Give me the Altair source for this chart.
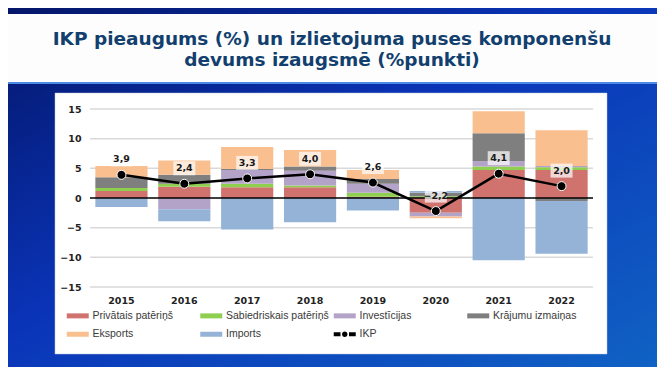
import altair as alt
import pandas as pd

years = ["2015", "2016", "2017", "2018", "2019", "2020", "2021", "2022"]
series = ["Privātais patēriņš", "Sabiedriskais patēriņš", "Investīcijas",
          "Krājumu izmaiņas", "Eksports", "Imports"]
privatais = [1.2, 1.9, 1.8, 1.8, 0.2, -2.5, 4.7, 4.7]
sabiedriskais = [0.5, 0.5, 0.6, 0.3, 0.7, 0.3, 0.6, 0.5]
investicijas = [0.0, -1.9, 2.3, 2.5, 1.5, -0.6, 0.9, 0.2]
krajumi = [1.8, 1.5, 0.2, 0.7, 0.8, 0.6, 4.7, -0.5]
eksports = [1.9, 2.4, 3.7, 2.8, 1.5, -0.3, 3.7, 6.0]
imports = [-1.5, -2.0, -5.3, -4.1, -2.1, 0.3, -10.5, -8.9]
ikp = [3.9, 2.4, 3.3, 4.0, 2.6, -2.2, 4.1, 2.0]
line_name = "IKP"
colors = ["#d0736e", "#8fcf50", "#b4a3c8", "#7f7f7f", "#f9bf8f", "#95b3d7", "#000000"]
grid_values = [-15, -10, -5, 0, 5, 10, 15]
title_lines = ["IKP pieaugums (%) un izlietojuma puses komponenšu",
               "devums izaugsmē (%punkti)"]

values_by_series = [privatais, sabiedriskais, investicijas, krajumi, eksports, imports]
rows = []
for i, (name, vals) in enumerate(zip(series, values_by_series)):
    for y, v in zip(years, vals):
        rows.append({"year": y, "series": name, "value": v, "idx": i})
df = pd.DataFrame(rows)
ikp_df = pd.DataFrame({"year": years, "value": ikp})
grid_df = pd.DataFrame({"value": grid_values})
one = pd.DataFrame({"d": [0]})

W, H = 503, 178
L, T = 82, 101
CW, CH = 649, 359

xscale = alt.Scale(paddingInner=0.17, paddingOuter=0.085)
xaxis = alt.Axis(title=None, labelAngle=0, domain=False, ticks=False, grid=False,
                 labelFont="DejaVu Sans", labelFontSize=9.5, labelFontWeight="bold",
                 labelColor="#222222", labelPadding=8, zindex=1)
yscale = alt.Scale(domain=[-15, 15], nice=False, zero=False)
yaxis = alt.Axis(title=None, values=grid_values, grid=False, domain=False, ticks=False,
                 labelFont="DejaVu Sans", labelFontSize=9.5, labelFontWeight="bold",
                 labelColor="#222222", labelPadding=9, zindex=1)


def xenc():
    return alt.X("year:O", scale=xscale, axis=xaxis)


def yenc(stack=None):
    if stack:
        return alt.Y("value:Q", scale=yscale, axis=yaxis, stack=stack)
    return alt.Y("value:Q", scale=yscale, axis=yaxis)


bar_path = "M-4.4,-1L4.4,-1L4.4,1L-4.4,1Z"
ikp_path = ("M-4.4,-0.8L-1.7,-0.8L-1.7,0.8L-4.4,0.8Z M1.7,-0.8L4.4,-0.8L4.4,0.8L1.7,0.8Z "
            "M1.1,0A1.1,1.1,0,1,1,-1.1,0A1.1,1.1,0,1,1,1.1,0Z")
box_path = "M-2.2,-1.4L2.2,-1.4L2.2,1.4L-2.2,1.4Z"

legend_domain = series + [line_name]


def make_legend():
    return alt.Legend(
        title=None, orient="none", legendX=-17.5, legendY=201.5, columns=4,
        direction="horizontal",
        symbolSize=25, symbolStrokeWidth=0,
        labelFont="Liberation Sans", labelFontSize=10.5, labelColor="#3a3a3a",
        labelOffset=9.5, labelLimit=300, columnPadding=4.5, rowPadding=7.5,
        gridAlign="all", padding=0, zindex=1,
    )


color_enc = alt.Color("series:N", scale=alt.Scale(domain=legend_domain, range=colors),
                      legend=make_legend())
shape_enc = alt.Shape("series:N",
                      scale=alt.Scale(domain=legend_domain, range=[bar_path] * 6 + [ikp_path]),
                      legend=make_legend())

grad = alt.Gradient(
    gradient="linear",
    stops=[alt.GradientStop(color="#041669", offset=0),
           alt.GradientStop(color="#0a34b8", offset=0.45),
           alt.GradientStop(color="#1062c4", offset=1)],
    x1=0, y1=0, x2=1, y2=1,
)

bg = alt.Chart(one).mark_rect(color=grad).encode(
    x=alt.value(-L), x2=alt.value(CW - L), y=alt.value(-T), y2=alt.value(CH - T))
band = alt.Chart(one).mark_rect(color="#fdfdfd").encode(
    x=alt.value(-L), x2=alt.value(CW - L), y=alt.value(14 - 109), y2=alt.value(82 - 109))
bandline = alt.Chart(one).mark_rect(color="#4d8ae6").encode(
    x=alt.value(-L), x2=alt.value(CW - L), y=alt.value(82 - 109), y2=alt.value(84 - 109))
panel = alt.Chart(one).mark_rect(color="white", stroke="#b9c4d8", strokeWidth=0.5).encode(
    x=alt.value(55 - 90), x2=alt.value(607 - 90), y=alt.value(93 - 109), y2=alt.value(354 - 109))
title1 = alt.Chart(one).mark_text(
    text=title_lines[0], font="DejaVu Sans", fontSize=18.5, fontWeight="bold",
    color="#123f6e", baseline="middle", align="center").encode(
    x=alt.value(242), y=alt.value(39 - 109))
title2 = alt.Chart(one).mark_text(
    text=title_lines[1], font="DejaVu Sans", fontSize=18.5, fontWeight="bold",
    color="#123f6e", baseline="middle", align="center").encode(
    x=alt.value(242), y=alt.value(60 - 109))

grid = alt.Chart(grid_df).transform_filter("datum.value != 0").mark_rule(
    color="#d9d9d9", strokeWidth=1.5).encode(y=yenc(), x=alt.value(0), x2=alt.value(W))
zero = alt.Chart(grid_df).transform_filter("datum.value == 0").mark_rule(
    color="black", strokeWidth=1.5).encode(y=yenc(), x=alt.value(0), x2=alt.value(W))

bars = alt.Chart(df).mark_bar().encode(
    x=xenc(),
    y=yenc("zero"),
    color=color_enc,
    order=alt.Order("idx:Q", sort="ascending"),
)

# legend-only layer (no rows drawn) giving the legend its symbol shapes
legend_layer = alt.Chart(df).transform_filter("false").mark_point(filled=True, opacity=1).encode(
    x=xenc(), y=yenc(), color=color_enc, shape=shape_enc)

base = alt.Chart(ikp_df).transform_calculate(
    lbl="replace(format(datum.value, '.1f'), '.', ',')")
line = base.mark_line(color="black", strokeWidth=2.5).encode(x=xenc(), y=yenc())
pts = base.mark_circle(size=80, color="black", stroke="white", strokeWidth=1, opacity=1).encode(
    x=xenc(), y=yenc())
boxes = base.mark_point(shape=box_path, filled=True, color="white", opacity=0.7, size=100,
                        yOffset=-15.5, strokeWidth=0).encode(x=xenc(), y=yenc())
labels = base.mark_text(font="DejaVu Sans", fontSize=9.5, fontWeight="bold", color="#1a1a1a",
                        dy=-15.5, baseline="middle").encode(x=xenc(), y=yenc(), text="lbl:N")

chart = alt.layer(
    bg, band, bandline, panel, title1, title2, grid, bars, zero, line, pts, boxes, labels,
    legend_layer
).properties(width=W, height=H, padding=0, background="#0a2a9a").configure_view(strokeWidth=0)

chart.save("out.html", embed_options={"renderer": "svg", "actions": False})
